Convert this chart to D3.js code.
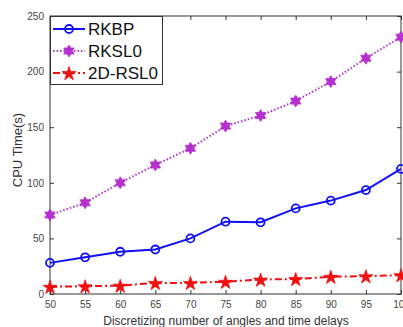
<!DOCTYPE html>
<html>
<head>
<meta charset="utf-8">
<script src="https://cdn.jsdelivr.net/npm/d3@7"></script>
<style>
  html, body { margin: 0; padding: 0; background: #fff; overflow: hidden; }
  svg { display: block; font-family: "Liberation Sans", Arial, sans-serif; }
</style>
</head>
<body>
<svg width="403" height="327"></svg>
<script>
  // Data
  const angles = [50, 55, 60, 65, 70, 75, 80, 85, 90, 95, 100];
  const rkbp   = [28, 33, 38, 40, 50, 65, 64.5, 77, 84, 93.5, 112.5];
  const rksl0  = [71, 82, 100, 116, 131, 151, 160.5, 173.5, 191, 212, 231];
  const rsl0   = [6.5, 7, 7.5, 10, 10, 11, 13, 13.5, 15.5, 16, 17];
  const yTicks = [0, 50, 100, 150, 200, 250];

  const svg = d3.select('svg');
  const margin = { top: 16, left: 50, right: 401, bottom: 294 };

  const x = d3.scaleLinear().domain([50, 100]).range([margin.left, margin.right]);
  const y = d3.scaleLinear().domain([0, 250]).range([margin.bottom, margin.top]);

  const axisColor = '#333';

  // Box
  svg.append('rect')
     .attr('x', x(50)).attr('y', y(250))
     .attr('width', x(100) - x(50)).attr('height', y(0) - y(250))
     .attr('fill', 'none').attr('stroke', axisColor).attr('stroke-width', 1);

  // Axes with inward ticks
  const xAxis = svg.append('g').attr('transform', `translate(0,${y(0)})`)
     .call(d3.axisBottom(x).tickValues(angles).tickSize(-4).tickPadding(7));
  const xTop = svg.append('g').attr('transform', `translate(0,${y(250)})`)
     .call(d3.axisTop(x).tickValues(angles).tickSize(-4).tickFormat(''));
  const yAxis = svg.append('g').attr('transform', `translate(${x(50)},0)`)
     .call(d3.axisLeft(y).tickValues(yTicks).tickSize(-4).tickPadding(6));
  const yRight = svg.append('g').attr('transform', `translate(${x(100)},0)`)
     .call(d3.axisRight(y).tickValues(yTicks).tickSize(-4).tickFormat(''));

  [xAxis, xTop, yAxis, yRight].forEach(g => {
    g.select('.domain').remove();
    g.selectAll('line').attr('stroke', axisColor);
    g.selectAll('text').attr('fill', '#444').style('font-size', '10px')
     .style('font-family', '"Liberation Sans", Arial, sans-serif');
  });

  // Axis labels
  svg.append('text')
     .attr('x', 226).attr('y', 325)
     .attr('text-anchor', 'middle')
     .attr('fill', '#333').style('font-size', '12px')
     .text('Discretizing number of angles and time delays');
  svg.append('text')
     .attr('transform', `translate(22,150) rotate(-90)`)
     .attr('text-anchor', 'middle')
     .attr('fill', '#333').style('font-size', '13px')
     .text('CPU Time(s)');

  const series = [
    { name: 'RKBP',    values: rkbp,  color: '#1010f5', dash: null,      marker: 'circle' },
    { name: 'RKSL0',   values: rksl0, color: '#b530cf', dash: '1.5,2',   marker: 'hexagram' },
    { name: '2D-RSL0', values: rsl0,  color: '#f01010', dash: '7,3,2,3', marker: 'star' }
  ];

  const line = d3.line().x((d, i) => x(angles[i])).y(d => y(d));

  function hexagram(r) {
    const pts = [];
    for (let i = 0; i < 12; i++) {
      const a = -Math.PI / 2 + i * Math.PI / 6;
      const rr = i % 2 === 0 ? r : r * 0.58;
      pts.push([rr * Math.cos(a), rr * Math.sin(a)]);
    }
    return 'M' + pts.join('L') + 'Z';
  }

  function drawMarker(g, s, cx, cy) {
    if (s.marker === 'circle') {
      g.append('circle').attr('cx', cx).attr('cy', cy).attr('r', 4)
       .attr('fill', 'none').attr('stroke', s.color).attr('stroke-width', 1.8);
    } else if (s.marker === 'hexagram') {
      g.append('path').attr('d', hexagram(6)).attr('transform', `translate(${cx},${cy})`)
       .attr('fill', s.color).attr('stroke', s.color).attr('stroke-width', 0.8);
    } else {
      g.append('path').attr('d', d3.symbol(d3.symbolStar, 60)())
       .attr('transform', `translate(${cx},${cy + 0.8})`)
       .attr('fill', s.color).attr('stroke', s.color).attr('stroke-width', 0.8);
    }
  }

  series.forEach(s => {
    const g = svg.append('g');
    g.append('path').datum(s.values).attr('d', line)
     .attr('fill', 'none').attr('stroke', s.color).attr('stroke-width', 2)
     .attr('stroke-dasharray', s.dash);
    s.values.forEach((v, i) => drawMarker(g, s, x(angles[i]), y(v)));
  });

  // Legend
  const legend = svg.append('g');
  legend.append('rect')
     .attr('x', 50.5).attr('y', 16.5).attr('width', 112).attr('height', 68)
     .attr('fill', '#fff').attr('stroke', axisColor).attr('stroke-width', 1);
  series.forEach((s, i) => {
    const ly = 29 + i * 22;
    legend.append('line')
      .attr('x1', 53).attr('x2', 85).attr('y1', ly).attr('y2', ly)
      .attr('stroke', s.color).attr('stroke-width', 2)
      .attr('stroke-dasharray', s.dash);
    drawMarker(legend, s, 69, ly);
    legend.append('text')
      .attr('x', 88).attr('y', ly + 6)
      .attr('fill', '#111').style('font-size', '17px')
      .text(s.name);
  });
</script>
</body>
</html>
